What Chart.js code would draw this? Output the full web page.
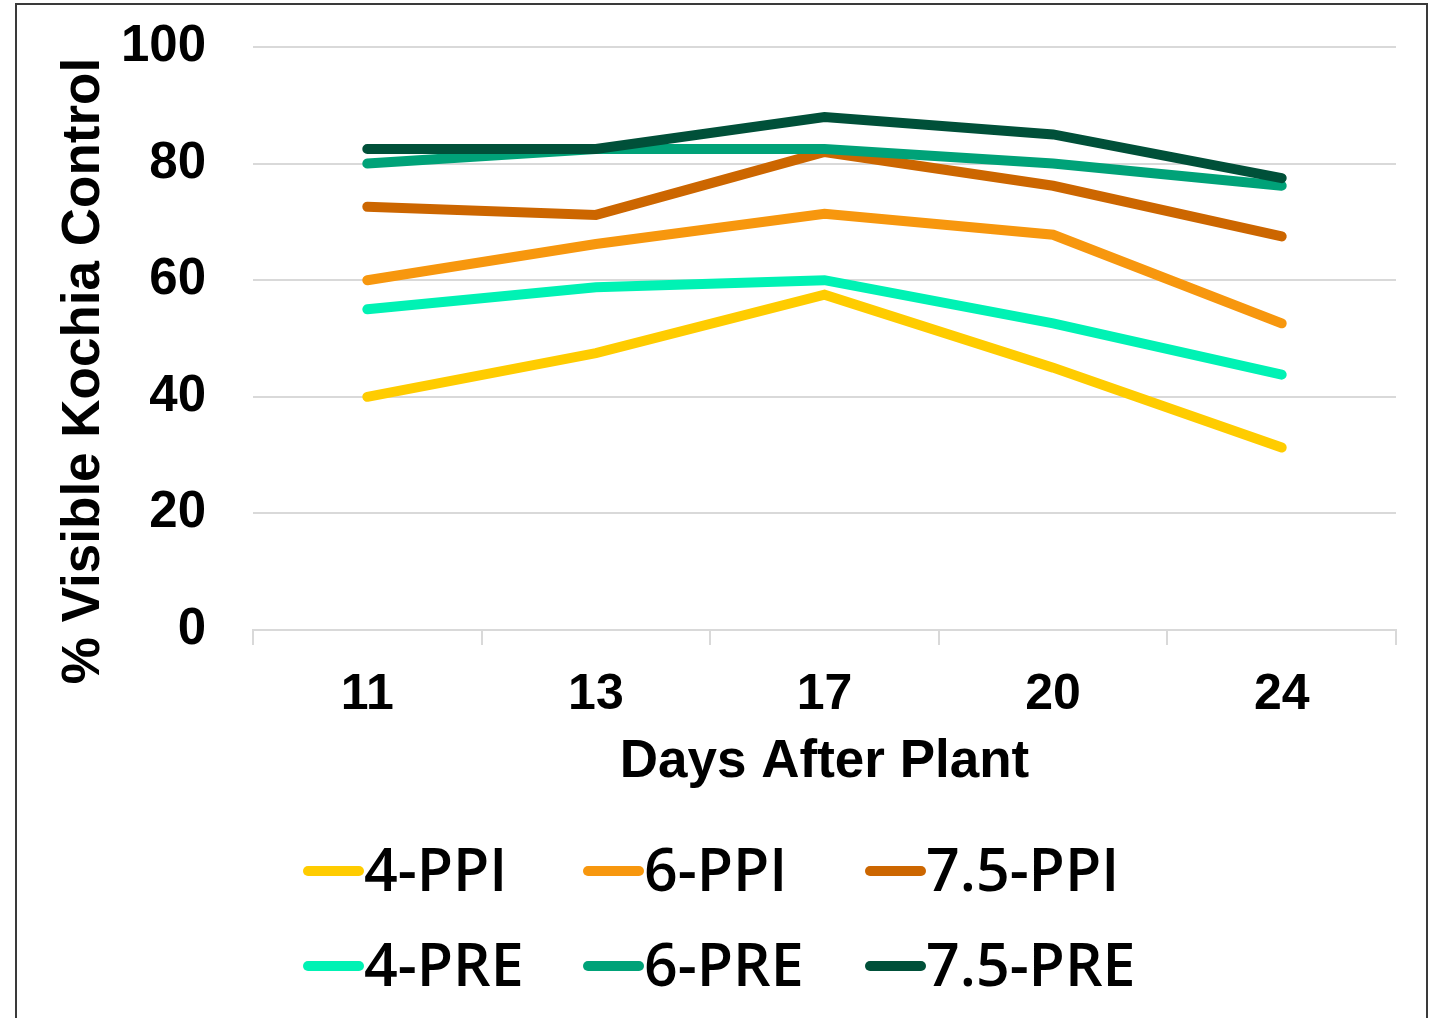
<!DOCTYPE html>
<html>
<head>
<meta charset="utf-8">
<script src="https://cdn.jsdelivr.net/npm/chart.js@4"></script>
<style>
  html, body { margin: 0; padding: 0; background: #fff; overflow: hidden; }
  body { width: 1435px; height: 1018px; position: relative; }
  #frame { position: absolute; left: 15px; top: 3px; width: 1413px; height: 1100px; border: 2px solid #3a3a3a; box-sizing: border-box; }
  #wrap { position: absolute; left: 0; top: 0; width: 1435px; height: 800px; }
  #legend { position: absolute; left: 303px; top: 823px; display: grid; grid-template-columns: 280px 282px 260px; grid-auto-rows: 95px; }
  .item { display: flex; align-items: center; height: 95px; }
  .swatch { width: 61px; height: 10px; border-radius: 5px; flex: none; }
  .label { font-family: "Open Sans", sans-serif; font-weight: 600; font-size: 59px; line-height: 1; color: #000; margin-left: 0px; position: relative; top: -2px; white-space: nowrap; }
</style>
</head>
<body>
<div id="frame"></div>
<div id="wrap"><canvas id="c" width="1435" height="800"></canvas></div>
<div id="legend"></div>
<script>
// Days after planting (x categories)
const days = ['11', '13', '17', '20', '24'];

// % visible kochia control by treatment
const ppi4  = [40.0, 47.5, 57.5, 45.0, 31.3];
const ppi6  = [60.0, 66.2, 71.4, 67.8, 52.6];
const ppi75 = [72.6, 71.2, 82.0, 76.2, 67.5];
const pre4  = [55.0, 58.8, 60.0, 52.6, 43.8];
const pre6  = [80.0, 82.5, 82.5, 80.0, 76.2];
const pre75 = [82.5, 82.5, 88.0, 85.0, 77.5];

const seriesNames = ['4-PPI', '6-PPI', '7.5-PPI', '4-PRE', '6-PRE', '7.5-PRE'];
const seriesValues = [ppi4, ppi6, ppi75, pre4, pre6, pre75];
const seriesColors = ['#FFCC00', '#F7970E', '#CC6600', '#00F2B4', '#00A278', '#005039'];

const yTicks = [0, 20, 40, 60, 80, 100];

const datasets = seriesNames.map((name, i) => ({
  label: name,
  data: seriesValues[i],
  borderColor: seriesColors[i],
  backgroundColor: seriesColors[i],
  borderWidth: 10,
  borderCapStyle: 'round',
  borderJoinStyle: 'miter',
  pointRadius: 0,
  pointHoverRadius: 0,
  tension: 0,
  fill: false,
  // later series are painted over earlier ones
  order: seriesNames.length - i
}));

// rotated y-axis title
const yTitlePlugin = {
  id: 'yTitle',
  afterDraw(chart) {
    const ctx = chart.ctx;
    ctx.save();
    ctx.translate(99, 371);
    ctx.rotate(-Math.PI / 2);
    ctx.font = 'bold 53px "Liberation Sans", Arial, sans-serif';
    ctx.fillStyle = '#000';
    ctx.textAlign = 'center';
    ctx.textBaseline = 'alphabetic';
    ctx.fillText('% Visible Kochia Control', 0, 0);
    ctx.restore();
  }
};

new Chart(document.getElementById('c'), {
  type: 'line',
  data: { labels: days, datasets },
  options: {
    responsive: false,
    animation: false,
    events: [],
    layout: { padding: { top: 47, right: 39, left: 0, bottom: 0 } },
    plugins: { legend: { display: false }, tooltip: { enabled: false } },
    scales: {
      x: {
        type: 'category',
        offset: true,
        grid: { display: true, drawOnChartArea: false, drawTicks: true, tickLength: 15, color: '#d9d9d9', lineWidth: 2, offset: true },
        border: { display: true, color: '#d9d9d9', width: 2 },
        ticks: { color: '#000', padding: 20, font: { family: '"Liberation Sans", Arial, sans-serif', size: 50, weight: 'bold' } },
        title: { display: true, text: 'Days After Plant', color: '#000', padding: { top: 0, bottom: 6 }, font: { family: '"Liberation Sans", Arial, sans-serif', size: 53, weight: 'bold' } },
        afterFit(scale) { scale.height = 170; scale.paddingLeft = 0; scale.paddingRight = 0; }
      },
      y: {
        min: 0,
        max: 100,
        afterBuildTicks(scale) { scale.ticks = yTicks.map(v => ({ value: v })); },
        grid: { color: '#d9d9d9', lineWidth: 2, drawTicks: false },
        border: { display: false },
        ticks: { color: '#000', padding: 47, font: { family: '"Liberation Sans", Arial, sans-serif', size: 51, weight: 'bold' } },
        afterFit(scale) { scale.width = 253; scale.paddingTop = 0; scale.paddingBottom = 0; }
      }
    }
  },
  plugins: [yTitlePlugin]
});

// legend laid out in three columns, two rows
const legend = document.getElementById('legend');
seriesNames.forEach((name, i) => {
  const item = document.createElement('div');
  item.className = 'item';
  const sw = document.createElement('span');
  sw.className = 'swatch';
  sw.style.background = seriesColors[i];
  const lb = document.createElement('span');
  lb.className = 'label';
  lb.textContent = name;
  item.appendChild(sw);
  item.appendChild(lb);
  legend.appendChild(item);
});
</script>
</body>
</html>
